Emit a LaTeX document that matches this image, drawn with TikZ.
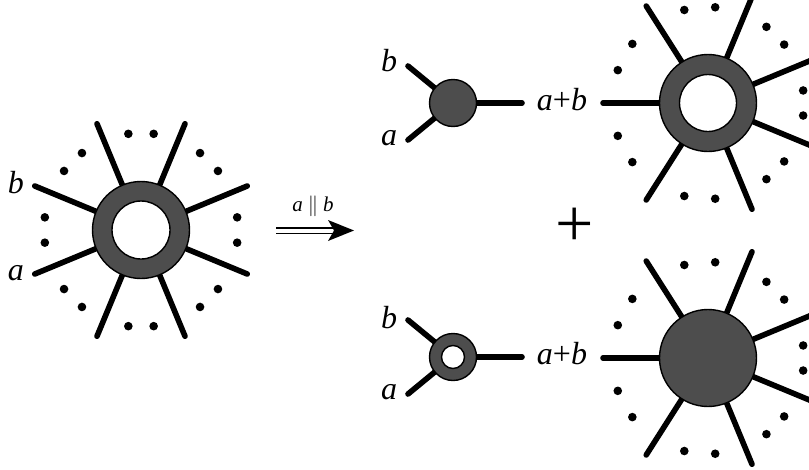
\documentclass[tikz,border=0pt]{standalone}
\usepackage{fontspec}
\setmainfont{Liberation Serif}
\usetikzlibrary{calc}
\definecolor{ringgray}{RGB}{77,77,77}
\tikzset{
  leg/.style={line width=5.6pt, line cap=round},
  ringout/.style={circle, draw, line width=1.4pt, fill=ringgray, inner sep=0pt, minimum size=#1},
  ringin/.style={circle, draw, line width=1.4pt, fill=white, inner sep=0pt, minimum size=#1},
  lab/.style={font=\fontsize{32}{36}\selectfont\itshape, inner sep=0pt},
  smalllab/.style={font=\fontsize{21}{24}\selectfont\itshape, inner sep=0pt},
  dotr/.style={fill=black},
  arrline/.style={line width=1.4pt},
}
\begin{document}
\begin{tikzpicture}[x=1pt,y=-1pt]
\useasboundingbox (0,0) rectangle (809,469);
\clip (0,0) rectangle (809,469);

% ---------- left big ring ----------
\coordinate (L) at (141,230);
\foreach \a in {22.5,67.5,...,337.5} \draw[leg] (L) -- ++(\a:115);
\node[ringout=97] (Lo) at (L) {};
\node[ringin=58] (Li) at (L) {};
\foreach \a in {0,45,...,315} {
  \fill[dotr] (L) ++(\a+7.5:97) circle (4.3);
  \fill[dotr] (L) ++(\a-7.5:97) circle (4.3);
}
\node[lab] (Lb) at (16,183) {b};
\node[lab] (La) at (16,273) {a};

% ---------- arrow ----------
\coordinate (arrS) at (276,230.5);
\coordinate (arrE) at (354,230.5);
\draw[arrline] ($(arrS)+(0,-2.7)$) -- ($(arrE)+(-18,-2.7)$);
\draw[arrline] ($(arrS)+(0,2.7)$) -- ($(arrE)+(-18,2.7)$);
\fill (arrE) -- ++(-26,-10.5) -- ++(6,10.5) -- ++(-6,10.5) -- cycle;
\node[smalllab] (arrlab) at (313,206) {a\hspace{5pt}$\parallel$\hspace{5pt}b};

% ---------- plus ----------
\node[font=\fontsize{68}{70}\selectfont, inner sep=0pt] (plus) at (575,227) {+};

% ---------- top right ----------
\coordinate (S1) at (453,103);
\coordinate (S1b) at (408,66);
\coordinate (S1a) at (408,140);
\coordinate (S1r) at (522,103);
\draw[leg] (S1) -- (S1b);
\draw[leg] (S1) -- (S1a);
\draw[leg] (S1) -- (S1r);
\node[ringout=47] (S1n) at (S1) {};
\node[lab] (S1lb) at (389,61) {b};
\node[lab] (S1la) at (389,138) {a};
\node[lab] (S1ab) at (562,100) {a\textup{+}b};

\coordinate (R1) at (708,103);
\draw[leg] (R1) -- ++(180:105);
\foreach \a in {122.5,67.5,22.5,-22.5,-67.5,-122.5} \draw[leg] (R1) -- ++(\a:115);
\node[ringout=97] (R1o) at (R1) {};
\node[ringin=57] (R1i) at (R1) {};
\foreach \a in {160,142,104.3,85.7,52.5,37.5,7.5,-7.5,-37.5,-52.5,-85.7,-104.3,-142,-160}
  \fill[dotr] (R1) ++(\a:96) circle (4.3);

% ---------- bottom right ----------
\coordinate (S2) at (453,357);
\coordinate (S2b) at (408,320);
\coordinate (S2a) at (408,394);
\coordinate (S2r) at (522,357);
\draw[leg] (S2) -- (S2b);
\draw[leg] (S2) -- (S2a);
\draw[leg] (S2) -- (S2r);
\node[ringout=47] (S2o) at (S2) {};
\node[ringin=23] (S2i) at (S2) {};
\node[lab] (S2lb) at (389,318) {b};
\node[lab] (S2la) at (389,392) {a};
\node[lab] (S2ab) at (562,354) {a\textup{+}b};

\coordinate (R2) at (708,358);
\draw[leg] (R2) -- ++(180:105);
\foreach \a in {122.5,67.5,22.5,-22.5,-67.5,-122.5} \draw[leg] (R2) -- ++(\a:115);
\node[ringout=97] (R2o) at (R2) {};
\foreach \a in {160,142,104.3,85.7,52.5,37.5,7.5,-7.5,-37.5,-52.5,-85.7,-104.3,-142,-160}
  \fill[dotr] (R2) ++(\a:96) circle (4.3);
\end{tikzpicture}
\end{document}
